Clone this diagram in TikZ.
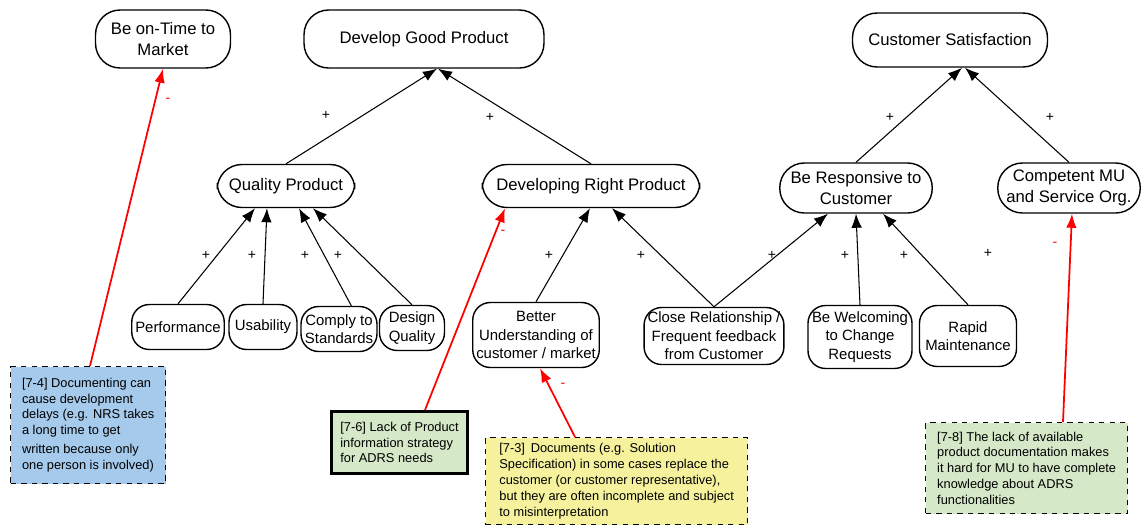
\documentclass[tikz,border=0pt]{standalone}
\usepackage{fontspec}
\setmainfont{Liberation Sans}
\usetikzlibrary{arrows.meta,calc}

\definecolor{noteblue}{RGB}{166,202,236}
\definecolor{notegreen}{RGB}{213,232,200}
\definecolor{noteyellow}{RGB}{246,241,156}

\tikzset{
  goal/.style={draw, thick, rounded corners=14pt, align=center, fill=white,
    inner sep=2pt, font=\fontsize{9.5}{12}\selectfont},
  leaf/.style={goal, rounded corners=10pt, font=\fontsize{8.5}{10.5}\selectfont},
  note/.style={draw, dashed, thick, anchor=north west, align=left, inner sep=3pt,
    font=\fontsize{7.3}{9}\selectfont},
  helps/.style={->, semithick},
  hurts/.style={->, red, line width=1pt},
  plus/.style={font=\fontsize{8}{8}\selectfont, inner sep=0pt},
  minus/.style={red, font=\fontsize{8}{8}\selectfont, inner sep=0pt}
}

\begin{document}
\begin{tikzpicture}[x=0.02cm, y=-0.02cm, >={Latex[length=8pt,width=6pt]}]
  \useasboundingbox (0,0) rectangle (1147,525);

  % 1. top goals
  \node[goal, minimum width=2.7cm, minimum height=1.16cm] (market) at (163,39) {Be on-Time to\\Market};
  \node[goal, minimum width=4.8cm, minimum height=1.16cm] (good) at (424,39) {Develop Good Product};
  \node[goal, minimum width=3.9cm, minimum height=1.08cm] (satisf) at (950,40) {Customer Satisfaction};

  % 2. sub goals
  \node[goal, minimum width=2.75cm, minimum height=0.86cm] (quality) at (286,186) {Quality Product};
  \node[goal, minimum width=4.35cm, minimum height=0.86cm] (right) at (591,186) {Developing Right Product};
  \node[goal, minimum width=3.05cm, minimum height=1.0cm] (respons) at (856,188) {Be Responsive to\\Customer};
  \node[goal, minimum width=2.85cm, minimum height=1.0cm] (compet) at (1069,188) {Competent MU\\and Service Org.};

  % 3. leaves
  \node[leaf, minimum width=1.75cm, minimum height=0.9cm] (perf) at (178,327) {Performance};
  \node[leaf, minimum width=1.36cm, minimum height=0.9cm] (usab) at (263,327) {Usability};
  \node[leaf, minimum width=1.52cm, minimum height=0.9cm] (comply) at (339,329) {Comply to\\Standards};
  \node[leaf, minimum width=1.3cm, minimum height=0.9cm] (design) at (412,328) {Design\\Quality};
  \node[leaf, minimum width=2.46cm, minimum height=1.3cm] (better) at (536,335) {Better\\Understanding of\\customer / market};
  \node[leaf, minimum width=2.44cm, minimum height=1.14cm] (close) at (714,336) {Close Relationship /\\Frequent feedback\\from Customer};
  \node[leaf, minimum width=2.08cm, minimum height=1.26cm] (welcome) at (860,337) {Be Welcoming\\to Change\\Requests};
  \node[leaf, minimum width=1.94cm, minimum height=1.22cm] (rapid) at (968,336) {Rapid\\Maintenance};

  % 4. positive links
  \draw[helps] (quality.north) -- ($(good.south)+(13,0)$);
  \draw[helps] (right.north) -- ($(good.south)+(14,0)$);
  \draw[helps] (respons.north) -- ($(satisf.south)+(12,0)$);
  \draw[helps] (compet.north) -- ($(satisf.south)+(15,0)$);
  \draw[helps] (perf.north) -- ($(quality.south)+(-31,0)$);
  \draw[helps] (usab.north) -- ($(quality.south)+(-19,0)$);
  \draw[helps] (comply.62) -- ($(quality.south)+(13,0)$);
  \draw[helps] (design.north) -- ($(quality.south)+(27,0)$);
  \draw[helps] (better.north) -- ($(right.south)+(-1,0)$);
  \draw[helps] (close.north) -- ($(right.south)+(21,0)$);
  \draw[helps] (close.north) -- ($(respons.south)+(-28,0)$);
  \draw[helps] (welcome.north) -- (respons.south);
  \draw[helps] (rapid.north) -- ($(respons.south)+(27,0)$);

  \node[plus] (p1) at (326,115) {+};
  \node[plus] (p2) at (490,117) {+};
  \node[plus] (p3) at (890,117) {+};
  \node[plus] (p4) at (1050,117) {+};
  \node[plus] (p5) at (206,255) {+};
  \node[plus] (p6) at (252,255) {+};
  \node[plus] (p7) at (305,255) {+};
  \node[plus] (p8) at (338,255) {+};
  \node[plus] (p9) at (549,255) {+};
  \node[plus] (p10) at (641,255) {+};
  \node[plus] (p11) at (772,255) {+};
  \node[plus] (p12) at (845,255) {+};
  \node[plus] (p13) at (904,255) {+};
  \node[plus] (p14) at (988,253) {+};

  % 5. findings (notes)
  \node[note, fill=noteblue, minimum width=3.1cm, minimum height=2.34cm] (n74) at (10,366)
    {[7-4] Documenting can\\cause development\\delays (e.g. NRS takes\\a long time to get\\[2pt]written because only\\one person is involved)};
  \node[note, fill=notegreen, solid, line width=1.8pt, minimum width=2.72cm, minimum height=1.24cm] (n76) at (330,410)
    {[7-6] Lack of Product\\information strategy\\for ADRS needs};
  \node[note, fill=noteyellow, minimum width=5.24cm, minimum height=1.74cm] (n73) at (485,437)
    {[7-3]\, Documents (e.g. Solution\\Specification) in some cases replace the\\customer (or customer representative),\\but they are often incomplete and subject\\to misinterpretation};
  \node[note, fill=notegreen, minimum width=4.04cm, minimum height=1.82cm] (n78) at (925,422)
    {[7-8] The lack of available\\product documentation makes\\it hard for MU to have complete\\knowledge about ADRS\\functionalities};

  % 6. negative links
  \draw[hurts] (n74.north west) ++(80,0) coordinate (h1) -- (market.south);
  \draw[hurts] (n76.north west) ++(95,0) coordinate (h2) -- ($(right.south)+(-86,0)$);
  \draw[hurts] (n73.north west) ++(90,0) coordinate (h3) -- ($(better.south)+(4,0)$);
  \draw[hurts] (n78.north west) ++(138,0) coordinate (h4) -- ($(compet.south)+(3,0)$);

  \node[minus] (m1) at (168,100) {-};
  \node[minus] (m2) at (503,232) {-};
  \node[minus] (m3) at (563,385) {-};
  \node[minus] (m4) at (1055,244) {-};
\end{tikzpicture}
\end{document}
